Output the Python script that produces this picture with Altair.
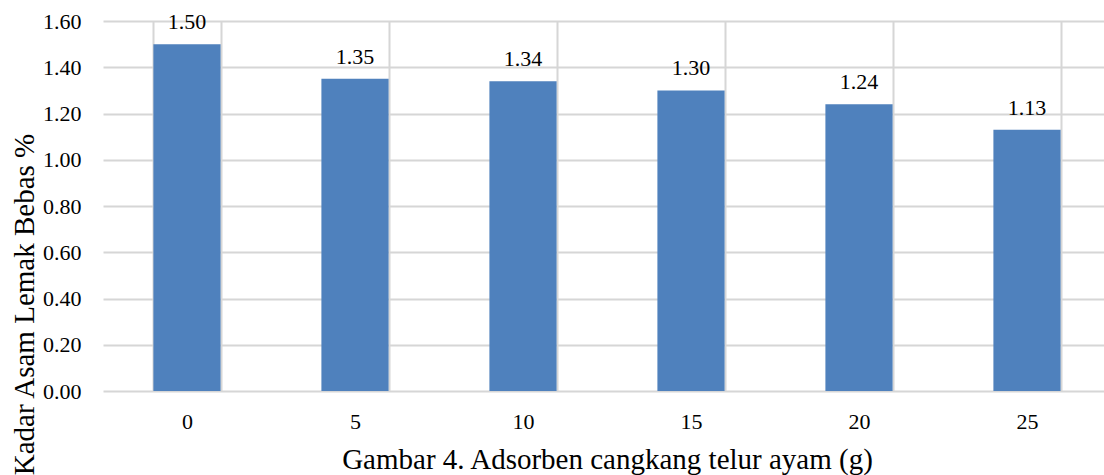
import altair as alt
import pandas as pd

# Adsorbent mass (g) and free fatty acid content (%)
dosis = ["0", "5", "10", "15", "20", "25"]
kadar = [1.50, 1.35, 1.34, 1.30, 1.24, 1.13]
label_kadar = ["1.50", "1.35", "1.34", "1.30", "1.24", "1.13"]
y_ticks = [0.0, 0.2, 0.4, 0.6, 0.8, 1.0, 1.2, 1.4, 1.6]

df = pd.DataFrame({"dosis": dosis, "kadar": kadar, "label": label_kadar})

FONT = "Liberation Serif, Times New Roman, serif"
GRID = "#D6D6D6"

x_enc = alt.X(
    "dosis:N",
    sort=dosis,
    scale=alt.Scale(range=[0, 1008], paddingInner=0.6, paddingOuter=0.3),
    axis=alt.Axis(
        title="Gambar 4. Adsorben cangkang telur ayam (g)",
        labelAngle=0,
        labelFont=FONT,
        labelFontSize=22,
        labelColor="#000000",
        labelPadding=20,
        ticks=False,
        tickSize=0,
        domain=False,
        grid=True,
        tickBand="extent",
        gridColor=GRID,
        gridWidth=2,
        titleFont=FONT,
        titleFontSize=29,
        titleFontWeight="normal",
        titleColor="#000000",
        titleBaseline="alphabetic",
        titleY=77,
    ),
)

y_enc = alt.Y(
    "kadar:Q",
    scale=alt.Scale(domain=[0, 1.6], nice=False),
    axis=alt.Axis(
        title="Kadar Asam Lemak Bebas %",
        values=y_ticks,
        format=".2f",
        labelFont=FONT,
        labelFontSize=22,
        labelColor="#000000",
        labelPadding=22,
        ticks=False,
        tickSize=0,
        domain=False,
        grid=True,
        gridColor=GRID,
        gridWidth=2,
        titleFont=FONT,
        titleFontSize=29,
        titleFontWeight="normal",
        titleColor="#000000",
        titleAngle=270,
        titleAlign="center",
        titleBaseline="alphabetic",
        titleX=-70,
        titleY=283,
    ),
)

bars = alt.Chart(df).mark_bar(color="#4F81BD").encode(x=x_enc, y=y_enc)

labels = alt.Chart(df).mark_text(
    font=FONT, fontSize=22, color="#000000", baseline="alphabetic", dy=-15
).encode(x=alt.X("dosis:N", sort=dosis), y="kadar:Q", text="label:N")

chart = (
    alt.layer(bars, labels)
    .properties(
        width=1001,
        height=370,
        autosize=alt.AutoSizeParams(type="none"),
        padding={"left": 103, "top": 21, "right": 0, "bottom": 84},
        background="#FFFFFF",
    )
    .configure_view(stroke=None)
)

chart.save("out.html", embed_options={"renderer": "svg", "actions": False})
